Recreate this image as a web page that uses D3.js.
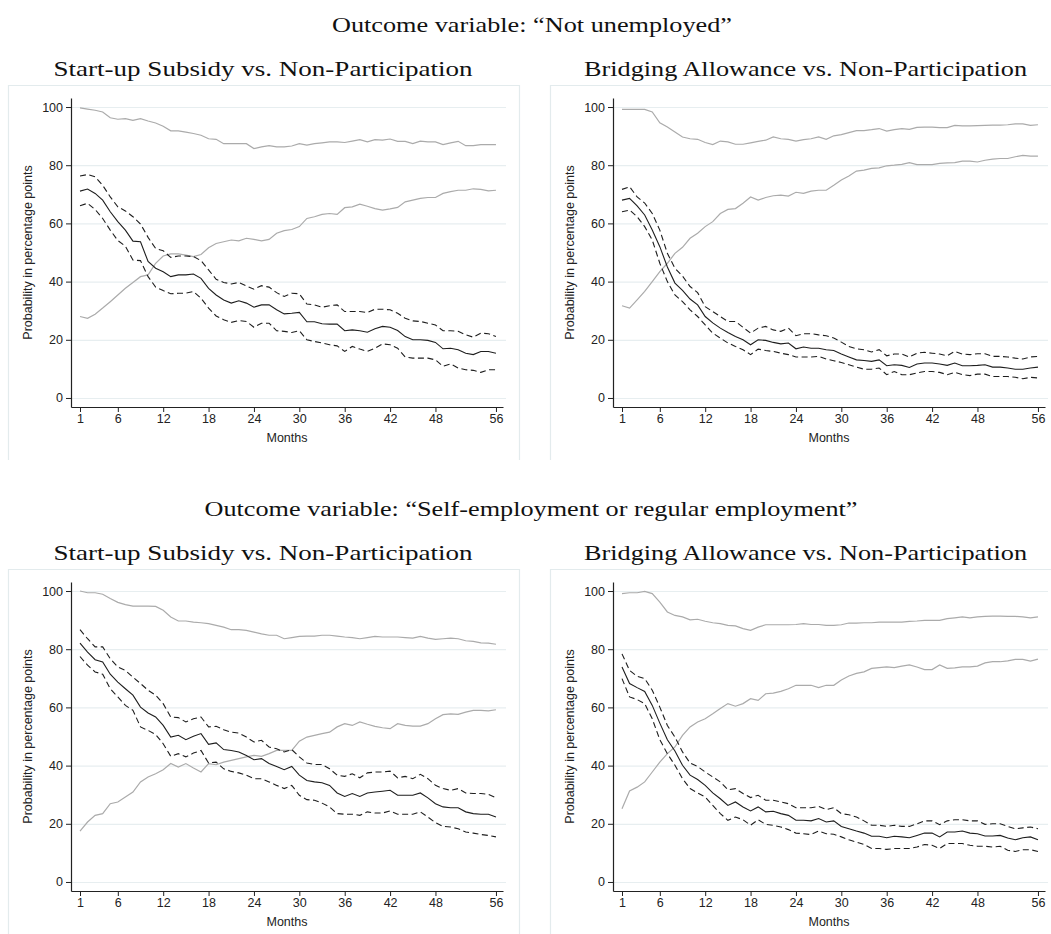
<!DOCTYPE html>
<html>
<head>
<meta charset="utf-8">
<script src="https://cdn.jsdelivr.net/npm/d3@7"></script>
<style>
  body { margin: 0; background: #fff; }
  svg { display: block; }
</style>
</head>
<body>
<svg id="chart" width="1051" height="934"></svg>
<script>
// values, months 1..56
const months = d3.range(1, 57);
const xTicks = [1, 6, 12, 18, 24, 30, 36, 42, 48, 56];
const yTicks = [0, 20, 40, 60, 80, 100];

const rowTitles = ["Outcome variable: \u201cNot unemployed\u201d",
                   "Outcome variable: \u201cSelf-employment or regular employment\u201d"];
const colTitles = ["Start-up Subsidy vs. Non-Participation",
                   "Bridging Allowance vs. Non-Participation"];

// top-left: not unemployed, start-up subsidy
const p1Part = [99.7,99.3,98.9,98.3,96.3,95.8,96.0,95.4,96.0,95.2, 94.5,93.4,91.8,91.8,91.4,90.9,90.3,89.1,88.9,87.4,
  87.4,87.4,87.4,85.7,86.3,86.7,86.3,86.3,86.6,87.4, 86.9,87.4,87.7,88.0,88.0,87.8,88.3,88.8,88.0,88.8,
  88.6,89.0,88.2,88.2,87.4,88.3,88.0,88.0,87.1,87.7, 88.2,86.7,86.7,87.1,87.1,87.1];
const p1Ctrl = [28.0,27.4,28.8,30.9,33.1,35.4,37.7,39.7,41.7,42.3, 46.3,48.8,49.5,49.5,49.1,48.6,49.3,51.6,53.1,53.7,
  54.3,54.0,54.9,54.5,54.0,54.5,56.6,57.5,57.9,58.9, 61.7,62.3,63.1,63.4,63.1,65.4,65.7,66.6,65.9,65.1,
  64.6,65.0,65.5,67.4,68.0,68.6,68.9,68.9,70.3,70.9, 71.4,71.4,71.9,71.7,71.2,71.4];
const p1Eff = [71.1,71.8,70.3,68.0,64.0,60.6,57.7,53.9,53.7,46.9, 44.6,43.4,41.7,42.3,42.3,42.6,41.1,37.7,35.4,33.7,
  32.6,33.4,32.6,31.2,32.0,32.0,30.3,28.9,29.1,29.4, 26.2,26.2,25.5,25.4,25.4,23.1,23.4,23.1,22.6,23.8,
  24.6,24.3,23.2,21.1,20.0,20.0,19.8,19.1,16.9,17.1, 16.6,15.4,14.9,16.0,16.0,15.4];
const p1Hi = [76.3,76.8,76.0,73.1,69.1,65.7,64.3,62.3,59.8,55.2, 51.4,50.6,48.3,48.8,48.8,48.6,47.2,44.0,40.8,39.7,
  39.2,39.7,38.5,37.4,38.6,38.1,36.2,34.9,36.0,35.8, 32.3,32.0,31.2,31.7,32.0,29.7,29.7,29.7,29.4,30.5,
  30.5,30.3,29.1,27.4,26.5,26.3,25.7,25.1,23.1,23.1, 22.9,21.7,20.9,22.3,22.1,21.1];
const p1Lo = [66.1,66.9,64.8,61.7,57.7,54.1,52.2,47.4,47.2,41.7, 38.1,36.9,35.8,36.0,36.0,36.6,34.3,30.9,28.2,26.9,
  26.0,26.6,26.3,24.3,25.7,25.7,23.1,22.9,22.5,23.1, 20.0,19.4,18.9,18.3,17.9,16.0,17.7,16.8,16.0,17.1,
  18.6,18.3,17.1,14.1,13.7,13.7,13.7,13.1,10.9,11.7, 10.3,9.7,9.5,8.8,9.7,9.7];

// top-right: not unemployed, bridging allowance
const p2Part = [99.2,99.2,99.2,99.2,98.3,94.6,93.1,91.4,89.7,89.1, 88.9,87.8,87.1,88.3,88.0,87.2,87.2,87.7,88.2,88.6,
  89.7,89.1,88.9,88.3,88.8,89.1,89.7,88.9,90.1,90.5, 91.2,91.9,91.9,92.2,92.6,91.7,92.2,92.6,92.3,93.0,
  93.1,93.1,92.9,92.9,93.7,93.5,93.5,93.6,93.7,93.8, 93.8,93.9,94.2,94.2,93.7,93.9];
const p2Ctrl = [31.7,30.9,33.7,36.6,40.0,43.4,46.3,49.7,51.8,54.9, 56.6,58.9,60.6,63.4,64.8,65.1,66.9,69.1,68.0,68.9,
  69.5,69.7,69.4,70.7,70.3,71.1,71.4,71.4,73.1,74.9, 76.3,78.0,78.3,78.9,79.1,79.8,80.0,80.3,80.9,80.2,
  80.2,80.2,80.6,80.8,80.9,81.4,81.4,81.1,81.7,82.1, 82.3,82.3,82.9,83.4,83.1,83.1];
const p2Eff = [68.0,68.6,66.0,62.9,57.7,52.0,45.0,39.5,37.0,34.0, 32.0,28.0,25.8,24.0,22.5,21.1,20.0,18.3,20.0,19.8,
  19.1,18.6,18.9,16.9,17.5,17.1,17.1,16.6,16.3,15.1, 14.1,13.1,12.9,12.6,13.1,11.1,11.4,11.2,10.5,11.7,
  12.0,12.0,11.7,11.2,12.0,11.1,11.1,11.2,11.4,10.6, 10.6,10.3,9.9,9.9,10.3,10.6];
const p2Hi = [71.7,72.6,69.1,67.0,63.4,57.7,49.7,44.6,41.9,38.3, 36.2,31.4,29.7,28.0,26.3,26.3,24.3,22.3,24.0,24.6,
  23.4,22.9,24.0,21.4,22.1,22.1,21.7,21.4,20.6,19.2, 17.7,16.9,16.6,15.8,16.6,14.5,15.1,15.1,14.1,15.4,
  15.7,15.4,15.1,14.5,16.0,15.1,14.9,15.2,15.2,14.3, 14.3,14.1,13.7,13.4,14.1,14.3];
const p2Lo = [64.0,64.6,62.3,58.9,54.3,46.3,40.0,35.4,33.1,30.3, 28.0,25.1,22.3,20.6,18.9,17.7,16.6,14.9,16.8,16.3,
  16.0,15.4,14.9,14.1,14.1,14.1,14.3,13.4,12.8,12.2, 11.4,10.6,9.9,9.9,10.3,8.0,9.1,8.0,8.0,8.6,
  9.1,9.1,8.8,8.0,8.8,8.0,7.7,8.2,8.2,7.4, 7.4,7.4,7.1,6.6,7.1,6.9];

// bottom-left: self-employment or regular employment, start-up subsidy
const p3Part = [100.0,99.4,99.4,98.9,97.4,96.1,95.3,94.8,94.8,94.8, 94.7,93.4,91.1,89.7,89.7,89.3,89.1,88.8,88.2,87.6,
  86.7,86.7,86.5,85.9,85.3,84.8,84.8,83.6,84.0,84.4, 84.5,84.5,84.8,84.8,84.5,84.2,84.0,83.6,84.0,84.4,
  84.2,84.2,84.2,84.0,83.8,84.4,83.8,83.4,83.6,83.8, 83.6,82.9,82.7,82.2,82.1,81.7];
const p3Ctrl = [17.5,20.6,22.9,23.5,26.9,27.5,29.2,30.9,34.4,36.1, 37.2,38.6,40.7,39.5,40.7,39.2,37.8,40.7,40.3,41.2,
  41.8,42.4,43.0,43.5,43.2,44.1,45.2,45.2,45.2,48.4, 49.8,50.4,51.0,51.5,53.3,54.4,53.8,55.0,54.2,53.5,
  53.0,52.7,54.4,53.8,53.6,53.6,54.4,56.1,57.5,57.8, 57.6,58.4,59.0,59.0,58.8,59.2];
const p3Eff = [82.1,79.0,76.4,75.6,71.4,68.7,66.4,64.2,60.1,58.1, 56.7,53.8,49.8,50.4,48.9,50.1,51.0,47.3,47.8,45.5,
  45.2,44.7,43.5,42.0,42.4,40.7,39.7,38.6,39.7,36.7, 34.9,34.4,34.1,33.2,30.6,29.4,30.4,29.4,30.6,30.9,
  31.2,31.5,29.8,29.8,29.8,30.6,28.9,26.9,25.8,25.5, 25.5,24.1,23.5,23.3,23.3,22.3];
const p3Hi = [86.7,83.6,80.8,80.8,76.7,73.9,72.7,70.4,68.2,65.9, 64.2,61.3,56.7,56.5,55.0,56.1,56.7,53.3,53.5,52.3,
  51.5,51.2,49.8,48.1,48.7,46.4,45.8,44.7,45.5,43.0, 40.9,40.4,40.4,38.9,36.7,36.3,37.2,35.8,37.5,37.8,
  37.8,38.1,35.8,36.3,35.5,37.0,35.5,33.2,32.1,31.5, 32.1,30.6,30.4,30.4,30.1,29.0];
const p3Lo = [77.5,74.5,72.2,71.4,66.4,63.6,60.7,59.0,53.3,52.1, 50.7,47.5,43.2,44.1,43.0,44.3,45.2,40.9,41.2,38.9,
  38.0,37.5,36.7,35.5,35.5,34.4,33.2,32.1,33.2,29.8, 28.3,28.1,27.1,25.8,23.5,23.3,23.3,22.9,24.1,23.7,
  23.7,24.4,23.3,23.3,23.3,24.1,22.3,20.4,19.1,18.9, 18.3,17.2,16.8,16.3,16.0,15.5];

// bottom-right: self-employment or regular employment, bridging allowance
const p4Part = [99.1,99.4,99.4,99.9,99.1,96.2,92.8,91.6,91.1,90.1, 90.3,89.6,89.1,88.8,88.2,88.0,87.1,86.5,87.6,88.4,
  88.4,88.4,88.4,88.5,88.8,88.5,88.5,88.2,88.2,88.4, 89.0,89.0,89.1,89.1,89.3,89.3,89.3,89.3,89.6,89.7,
  89.9,89.9,89.9,90.5,90.8,91.1,90.8,91.1,91.3,91.4, 91.4,91.3,91.3,91.1,90.8,91.1];
const p4Ctrl = [25.2,31.3,32.6,34.4,37.8,41.2,44.1,46.4,50.4,53.3, 55.0,56.1,57.8,59.6,61.3,60.4,61.3,63.0,62.4,64.7,
  64.9,65.5,66.4,67.6,67.6,67.6,66.8,67.6,67.6,69.4, 70.8,71.7,72.2,73.4,73.7,73.9,73.7,74.2,74.6,73.9,
  73.0,73.0,74.6,73.4,73.6,73.9,73.9,74.2,75.3,75.7, 75.7,76.0,76.5,76.5,75.9,76.6];
const p4Eff = [73.9,68.2,66.8,65.5,60.7,54.6,48.9,45.0,40.1,36.7, 35.2,33.2,30.6,28.6,26.3,27.5,25.8,24.4,25.8,24.1,
  24.3,23.5,22.9,21.2,21.2,21.0,21.8,20.6,21.0,19.1, 18.3,17.5,16.8,15.7,15.7,15.2,15.7,15.5,15.2,16.0,
  16.8,16.8,15.5,17.2,17.2,17.5,16.8,16.6,15.8,15.8, 16.0,15.1,14.5,15.2,15.5,14.5];
const p4Hi = [78.4,72.7,70.7,69.9,65.9,60.1,53.8,49.8,44.7,40.9, 39.7,37.8,36.1,34.4,31.7,32.1,30.4,29.0,29.8,28.1,
  28.1,27.5,26.9,25.5,25.5,25.5,26.0,24.9,25.5,23.5, 23.1,22.3,21.0,19.5,19.5,19.1,19.5,19.1,19.1,20.0,
  21.0,21.0,19.7,21.0,21.4,21.4,21.0,21.0,19.8,20.0, 20.0,19.1,18.3,18.6,18.9,18.3];
const p4Lo = [69.9,63.6,62.7,61.3,56.1,48.9,44.1,40.1,35.5,32.1, 30.6,29.2,26.3,23.5,21.2,22.3,21.4,19.5,21.4,19.8,
  19.5,18.9,18.0,16.8,16.6,16.3,17.5,16.6,16.4,15.5, 14.5,13.7,12.9,11.5,11.5,11.2,11.5,11.5,11.5,12.0,
  12.9,12.6,11.5,13.2,13.2,13.2,12.6,12.3,12.3,12.0, 12.3,10.9,10.5,11.1,11.1,10.5];

const panels = [
  { row: 0, col: 0, part: p1Part, ctrl: p1Ctrl, eff: p1Eff, hi: p1Hi, lo: p1Lo },
  { row: 0, col: 1, part: p2Part, ctrl: p2Ctrl, eff: p2Eff, hi: p2Hi, lo: p2Lo },
  { row: 1, col: 0, part: p3Part, ctrl: p3Ctrl, eff: p3Eff, hi: p3Hi, lo: p3Lo },
  { row: 1, col: 1, part: p4Part, ctrl: p4Ctrl, eff: p4Eff, hi: p4Hi, lo: p4Lo }
];

const svg = d3.select("#chart");
const rowStep = 484;
const colStep = 542;
const sans = "'Liberation Sans', Arial, sans-serif";
const serif = "'Liberation Serif', 'Times New Roman', serif";

const gray = "#ababab";
const dark = "#1e1e1e";
const gridColor = "#e7eef0";

rowTitles.forEach((t, i) => {
  svg.append("text")
    .attr("x", i == 0 ? 532 : 531)
    .attr("y", 32 + i * rowStep)
    .attr("text-anchor", "middle")
    .attr("textLength", i == 0 ? 400 : 653)
    .attr("lengthAdjust", "spacingAndGlyphs")
    .style("font-family", serif)
    .style("font-size", "22px")
    .style("fill", "#111")
    .text(t);
});

panels.forEach(p => {
  const g = svg.append("g")
    .attr("transform", `translate(${p.col * colStep},${p.row * rowStep})`);

  // light frame round each graph
  g.append("path")
    .attr("d", "M8.5,460V85.5H519.5V460")
    .style("fill", "none")
    .style("stroke", "#e3ebed")
    .style("stroke-width", 1.2);

  g.append("text")
    .attr("x", 263 + p.col * 0.5)
    .attr("y", 76)
    .attr("text-anchor", "middle")
    .attr("textLength", p.col == 0 ? 419 : 443)
    .attr("lengthAdjust", "spacingAndGlyphs")
    .style("font-family", serif)
    .style("font-size", "22px")
    .style("fill", "#111")
    .text(colTitles[p.col]);

  const x = d3.scaleLinear().domain([-0.19, 56.93]).range([71, 503]);
  const y = d3.scaleLinear().domain([-3.1, 103.1]).range([407, 98]);

  g.selectAll(".grid")
    .data(yTicks)
    .enter()
    .append("line")
    .attr("x1", 72)
    .attr("x2", 506)
    .attr("y1", d => y(d) + 0.5)
    .attr("y2", d => y(d) + 0.5)
    .style("stroke", gridColor)
    .style("stroke-width", 1.2);

  const line = d3.line()
    .x((d, i) => x(months[i]))
    .y(d => y(d));

  [p.part, p.ctrl].forEach(s => {
    g.append("path")
      .attr("d", line(s))
      .style("fill", "none")
      .style("stroke", gray)
      .style("stroke-width", 1.2);
  });
  [p.hi, p.lo].forEach(s => {
    g.append("path")
      .attr("d", line(s))
      .style("fill", "none")
      .style("stroke", dark)
      .style("stroke-width", 1.1)
      .style("stroke-dasharray", "6,3.5");
  });
  g.append("path")
    .attr("d", line(p.eff))
    .style("fill", "none")
    .style("stroke", dark)
    .style("stroke-width", 1.1);

  const yAxis = g.append("g")
    .attr("transform", "translate(71,0)")
    .call(d3.axisLeft(y).tickValues(yTicks).tickSize(5).tickPadding(3).tickSizeOuter(0));
  const xAxis = g.append("g")
    .attr("transform", "translate(0,407)")
    .call(d3.axisBottom(x).tickValues(xTicks).tickSize(5).tickPadding(2).tickSizeOuter(0));

  [yAxis, xAxis].forEach(a => {
    a.select(".domain").style("stroke", "#222").style("stroke-width", 1.2);
    a.selectAll(".tick line").style("stroke", "#222");
    a.selectAll("text")
      .style("font-family", sans)
      .style("font-size", "12.5px")
      .style("fill", "#222");
  });

  g.append("text")
    .attr("x", 287)
    .attr("y", 442)
    .attr("text-anchor", "middle")
    .style("font-family", sans)
    .style("font-size", "12.5px")
    .style("fill", "#222")
    .text("Months");

  g.append("text")
    .attr("transform", "translate(32,252.5) rotate(-90)")
    .attr("text-anchor", "middle")
    .style("font-family", sans)
    .style("font-size", "12.5px")
    .style("fill", "#222")
    .text("Probability in percentage points");
});
</script>
</body>
</html>
